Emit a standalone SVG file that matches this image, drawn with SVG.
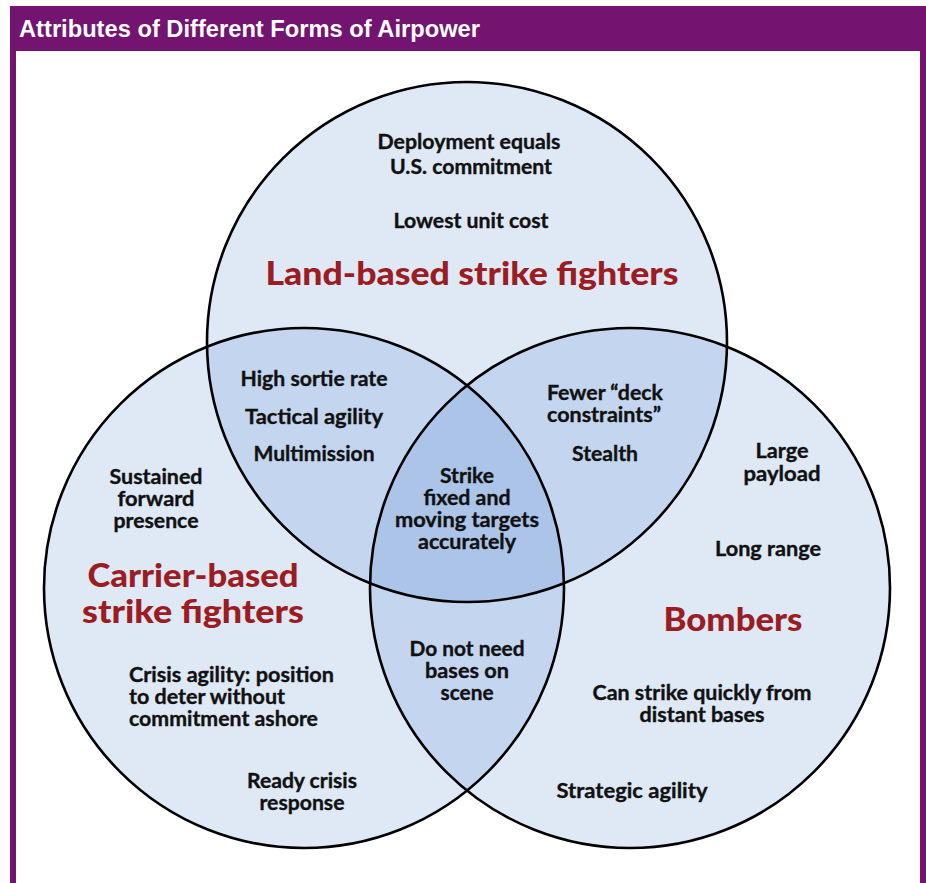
<svg xmlns="http://www.w3.org/2000/svg" width="926" height="883" viewBox="0 0 926 883">
<style>
.set{fill:#dfe9f6;stroke:none}
.two{fill:#c4d6ef;stroke:none}
.three{fill:#abc4e8;stroke:none}
.ring{fill:none;stroke:#000;stroke-width:2.6}
.t{font-family:Lato,"Open Sans","Liberation Sans",sans-serif;font-weight:700;font-size:20px;fill:#111;stroke:#111;stroke-width:0.35;text-anchor:middle}
.l{text-anchor:start}
.h{font-family:Lato,"Open Sans","Liberation Sans",sans-serif;font-weight:900;font-size:32px;fill:#9b1c22;text-anchor:middle}
.title{font-family:"Liberation Sans",Arial,sans-serif;font-weight:700;font-size:23px;fill:#fff}
</style>
<defs>
<circle id="cT" cx="467" cy="342" r="260"/>
<circle id="cL" cx="304" cy="588" r="260"/>
<circle id="cR" cx="630" cy="588" r="260"/>
<clipPath id="clipT"><use href="#cT"/></clipPath>
<clipPath id="clipL"><use href="#cL"/></clipPath>
</defs>
<rect width="926" height="883" fill="#fff"/>
<g id="frame">
<rect x="10" y="6" width="916" height="45" fill="#731471"/>
<rect x="10" y="50" width="6" height="833" fill="#731471"/>
<rect x="920" y="50" width="6" height="833" fill="#731471"/>
<text class="title" x="19" y="37" textLength="461" lengthAdjust="spacingAndGlyphs">Attributes of Different Forms of Airpower</text>
</g>
<g id="land-based">
<use href="#cT" class="set"/>
<text class="t" x="469" y="149" textLength="183" lengthAdjust="spacingAndGlyphs">Deployment equals</text>
<text class="t" x="471" y="174" textLength="162" lengthAdjust="spacingAndGlyphs">U.S. commitment</text>
<text class="t" x="471" y="228" textLength="155" lengthAdjust="spacingAndGlyphs">Lowest unit cost</text>
<text class="h" x="472" y="285" textLength="413" lengthAdjust="spacingAndGlyphs">Land-based strike fighters</text>
</g>
<g id="carrier-based">
<use href="#cL" class="set"/>
<text class="t" x="156" y="484" textLength="93" lengthAdjust="spacingAndGlyphs">Sustained</text>
<text class="t" x="156" y="506" textLength="77" lengthAdjust="spacingAndGlyphs">forward</text>
<text class="t" x="156" y="528" textLength="85" lengthAdjust="spacingAndGlyphs">presence</text>
<text class="h" x="193" y="587" textLength="211" lengthAdjust="spacingAndGlyphs">Carrier-based</text>
<text class="h" x="193" y="623" textLength="222" lengthAdjust="spacingAndGlyphs">strike fighters</text>
<text class="t l" x="129" y="682" textLength="205" lengthAdjust="spacingAndGlyphs">Crisis agility: position</text>
<text class="t l" x="129" y="704" textLength="156" lengthAdjust="spacingAndGlyphs">to deter without</text>
<text class="t l" x="129" y="726" textLength="189" lengthAdjust="spacingAndGlyphs">commitment ashore</text>
<text class="t" x="302" y="788" textLength="110" lengthAdjust="spacingAndGlyphs">Ready crisis</text>
<text class="t" x="302" y="810" textLength="85" lengthAdjust="spacingAndGlyphs">response</text>
</g>
<g id="bombers">
<use href="#cR" class="set"/>
<text class="t" x="782" y="458" textLength="53" lengthAdjust="spacingAndGlyphs">Large</text>
<text class="t" x="782" y="481" textLength="77" lengthAdjust="spacingAndGlyphs">payload</text>
<text class="t" x="768" y="556" textLength="106" lengthAdjust="spacingAndGlyphs">Long range</text>
<text class="h" x="733" y="631" textLength="139" lengthAdjust="spacingAndGlyphs">Bombers</text>
<text class="t" x="702" y="700" textLength="219" lengthAdjust="spacingAndGlyphs">Can strike quickly from</text>
<text class="t" x="702" y="722" textLength="125" lengthAdjust="spacingAndGlyphs">distant bases</text>
<text class="t" x="632" y="798" textLength="151" lengthAdjust="spacingAndGlyphs">Strategic agility</text>
</g>
<g id="land-carrier">
<g clip-path="url(#clipT)"><use href="#cL" class="two"/></g>
<text class="t" x="314" y="386" textLength="147" lengthAdjust="spacingAndGlyphs">High sortie rate</text>
<text class="t" x="314" y="424" textLength="138" lengthAdjust="spacingAndGlyphs">Tactical agility</text>
<text class="t" x="314" y="461" textLength="121" lengthAdjust="spacingAndGlyphs">Multimission</text>
</g>
<g id="land-bombers">
<g clip-path="url(#clipT)"><use href="#cR" class="two"/></g>
<text class="t" x="605" y="400" textLength="116" lengthAdjust="spacingAndGlyphs">Fewer “deck</text>
<text class="t" x="604" y="422" textLength="114" lengthAdjust="spacingAndGlyphs">constraints”</text>
<text class="t" x="605" y="461" textLength="66" lengthAdjust="spacingAndGlyphs">Stealth</text>
</g>
<g id="carrier-bombers">
<g clip-path="url(#clipL)"><use href="#cR" class="two"/></g>
<text class="t" x="467" y="656" textLength="115" lengthAdjust="spacingAndGlyphs">Do not need</text>
<text class="t" x="467" y="678" textLength="84" lengthAdjust="spacingAndGlyphs">bases on</text>
<text class="t" x="467" y="700" textLength="53" lengthAdjust="spacingAndGlyphs">scene</text>
</g>
<g id="all-three">
<g clip-path="url(#clipT)"><g clip-path="url(#clipL)"><use href="#cR" class="three"/></g></g>
<text class="t" x="467" y="483" textLength="54" lengthAdjust="spacingAndGlyphs">Strike</text>
<text class="t" x="467" y="505" textLength="87" lengthAdjust="spacingAndGlyphs">fixed and</text>
<text class="t" x="467" y="527" textLength="144" lengthAdjust="spacingAndGlyphs">moving targets</text>
<text class="t" x="467" y="549" textLength="98" lengthAdjust="spacingAndGlyphs">accurately</text>
</g>
<g id="outlines">
<use href="#cT" class="ring"/>
<use href="#cL" class="ring"/>
<use href="#cR" class="ring"/>
</g>
<g id="connectors"/>
</svg>
